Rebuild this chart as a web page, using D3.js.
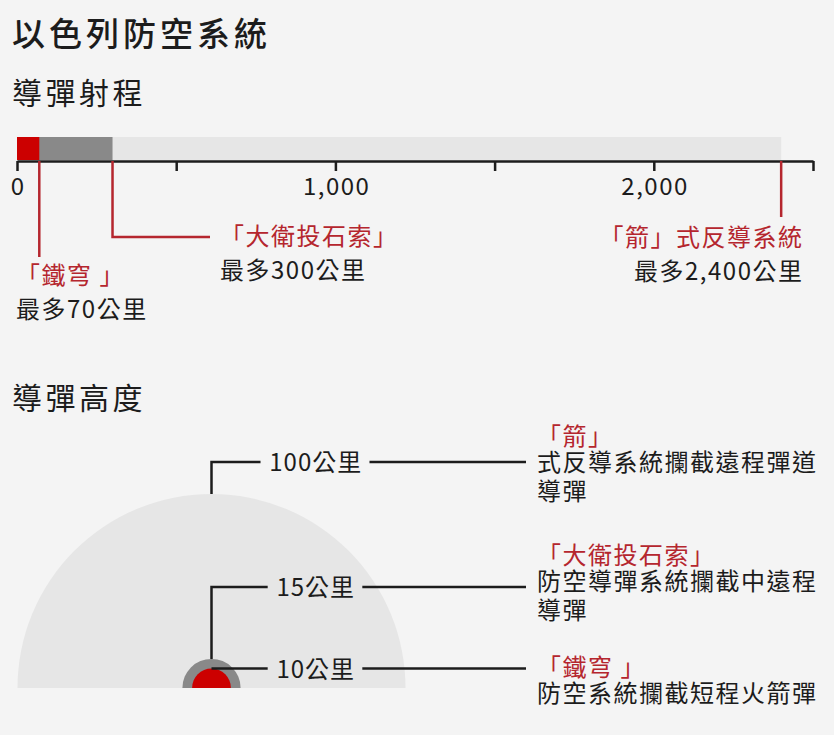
<!DOCTYPE html>
<html>
<head>
<meta charset="utf-8">
<script src="https://cdn.jsdelivr.net/npm/d3@7.9.0/dist/d3.min.js"></script>
<style>
  html, body { margin: 0; padding: 0; background: #f4f4f4; }
  svg { display: block; font-family: "Noto Sans CJK TC", "Noto Sans", sans-serif; }
</style>
</head>
<body>
<svg id="chart" width="834" height="735"></svg>
<script>
// ---- data ----
const systems = ["箭", "大衛投石索", "鐵穹"];
const redLabels = ["「箭」式反導系統", "「大衛投石索」", "「鐵穹 」"];
const rangeKm = [2400, 300, 70];
const rangeText = ["最多2,400公里", "最多300公里", "最多70公里"];
const altitudeKm = [100, 15, 10];
const altitudeText = ["100公里", "15公里", "10公里"];
const heightLabels = ["「箭」", "「大衛投石索」", "「鐵穹 」"];
const descriptions = [
  ["式反導系統攔截遠程彈道", "導彈"],
  ["防空導彈系統攔截中遠程", "導彈"],
  ["防空系統攔截短程火箭彈"]
];
const rangeTicks = [0, 500, 1000, 1500, 2000, 2500];
const labelledTicks = [0, 1000, 2000];

const fills = ["#e6e6e6", "#898989", "#cc0000"];
const red = "#b5262e";
const ink = "#1c1c1c";
const ls = 1.5; // letter spacing of body text

const svg = d3.select("#chart");

// ---- titles ----
svg.append("text").attr("x", 12).attr("y", 46)
  .attr("font-size", 33).attr("font-weight", 500).attr("letter-spacing", 4)
  .attr("fill", ink).text("以色列防空系統");
svg.append("text").attr("x", 12).attr("y", 104)
  .attr("font-size", 30).attr("letter-spacing", 3.5)
  .attr("fill", ink).text("導彈射程");
svg.append("text").attr("x", 12).attr("y", 409)
  .attr("font-size", 30).attr("letter-spacing", 3.5)
  .attr("fill", ink).text("導彈高度");

// ---- range bar ----
const x = d3.scaleLinear().domain([0, 2500]).range([17, 813]);
const barTop = 137, barBottom = 160, axisY = 161;

svg.append("g").selectAll("rect")
  .data(rangeKm)
  .join("rect")
  .attr("x", x(0))
  .attr("y", barTop)
  .attr("width", d => x(d) - x(0))
  .attr("height", barBottom - barTop)
  .attr("fill", (d, i) => fills[i]);

const axis = svg.append("g")
  .attr("transform", `translate(0,${axisY})`)
  .call(d3.axisBottom(x)
    .tickValues(rangeTicks)
    .tickSize(10)
    .tickSizeOuter(0)
    .tickPadding(7)
    .tickFormat(d => labelledTicks.includes(d) ? d3.format(",")(d) : ""));
axis.select(".domain").attr("stroke", ink).attr("stroke-width", 2.5);
axis.selectAll(".tick line").attr("stroke", ink).attr("stroke-width", 2.5);
axis.selectAll(".tick text")
  .attr("font-size", 24).attr("fill", ink).attr("letter-spacing", ls)
  .attr("dx", ls / 2)
  .attr("font-family", "'Noto Sans CJK TC', sans-serif");

// range annotations
const rangeAnno = [
  { lineEnd: 217, elbow: null, tx: 802 + ls, anchor: "end", ty: 246 },
  { lineEnd: 237, elbow: 210, tx: 220, anchor: "start", ty: 245 },
  { lineEnd: 257, elbow: null, tx: 16, anchor: "start", ty: 284 }
];
const ra = svg.append("g");
rangeKm.forEach((v, i) => {
  const a = rangeAnno[i];
  const px = x(v);
  const pts = [[px, axisY], [px, a.lineEnd]];
  if (a.elbow) pts.push([a.elbow, a.lineEnd]);
  ra.append("path")
    .attr("d", d3.line()(pts))
    .attr("fill", "none").attr("stroke", red).attr("stroke-width", 2.5);
  ra.append("text").attr("x", a.tx).attr("y", a.ty)
    .attr("text-anchor", a.anchor).attr("font-size", 24).attr("letter-spacing", ls)
    .attr("fill", red).text(redLabels[i]);
  ra.append("text").attr("x", a.tx).attr("y", a.ty + 34)
    .attr("text-anchor", a.anchor).attr("font-size", 24).attr("letter-spacing", ls)
    .attr("fill", ink).text(rangeText[i]);
});

// ---- altitude semicircles ----
const cx = 211.5, baseY = 688;
const r = d3.scaleLinear().domain([0, 100]).range([0, 194]);
const arc = d3.arc().innerRadius(0).startAngle(-Math.PI / 2).endAngle(Math.PI / 2);

svg.append("g").attr("transform", `translate(${cx},${baseY})`)
  .selectAll("path")
  .data(altitudeKm)
  .join("path")
  .attr("d", d => arc({ outerRadius: r(d) }))
  .attr("fill", (d, i) => fills[i]);

// leader lines
const leaderY = [462, 587, null];
const labelCx = 315;
const lineEndX = 526;
const hg = svg.append("g");
altitudeKm.forEach((v, i) => {
  const top = baseY - r(v);
  const ly = leaderY[i] === null ? top : leaderY[i];
  const t = hg.append("text").attr("x", labelCx + ls / 2).attr("y", ly + 9)
    .attr("text-anchor", "middle").attr("font-size", 24).attr("letter-spacing", 1)
    .attr("fill", ink).text(altitudeText[i]);
  const w = t.node().getComputedTextLength();
  const pts = leaderY[i] === null
    ? [[cx, ly], [labelCx - w / 2 - 8, ly]]
    : [[cx, top], [cx, ly], [labelCx - w / 2 - 8, ly]];
  hg.append("path").attr("d", d3.line()(pts))
    .attr("fill", "none").attr("stroke", ink).attr("stroke-width", 2.5);
  hg.append("path").attr("d", d3.line()([[labelCx + w / 2 + 8, ly], [lineEndX, ly]]))
    .attr("fill", "none").attr("stroke", ink).attr("stroke-width", 2.5);
});

// descriptions on the right
const descTop = [445, 564, 676];
const dg = svg.append("g");
heightLabels.forEach((lab, i) => {
  dg.append("text").attr("x", 537).attr("y", descTop[i])
    .attr("font-size", 24).attr("letter-spacing", 1.5)
    .attr("fill", red).text(lab);
  descriptions[i].forEach((line, j) => {
    dg.append("text").attr("x", 537).attr("y", descTop[i] + 26 + j * 29)
      .attr("font-size", 24).attr("letter-spacing", 1.5)
      .attr("fill", ink).text(line);
  });
});
</script>
</body>
</html>
